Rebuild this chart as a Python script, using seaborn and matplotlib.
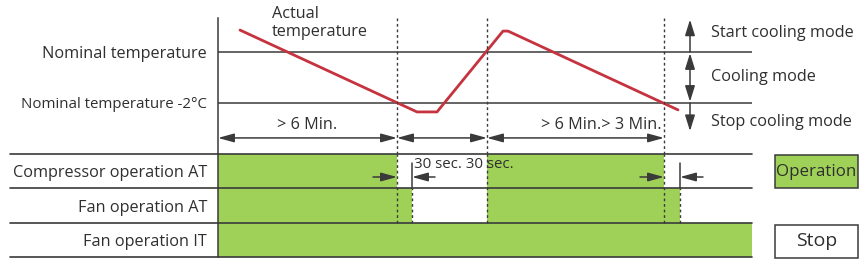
import matplotlib
matplotlib.use("Agg")
import matplotlib.pyplot as plt
from matplotlib.patches import Rectangle
import seaborn as sns

# ---- data -------------------------------------------------------------------
# time axis in diagram units (0 = start, 534 = end of the sketch)
t_end = 534

# actual temperature, in °C relative to the nominal temperature
temp_t = [22, 199, 219, 285, 290, 460]
temp_val = [0.86, -2.35, -2.35, 0.82, 0.82, -2.27]

level_values = [0, -2]
level_labels = ["Nominal temperature", "Nominal temperature -2°C"]

# compressor switching (dotted guides) and fan after-run
comp_switch_t = [179, 269, 446]
fan_off_t = [194, 462]

row_labels = ["Compressor operation AT", "Fan operation AT", "Fan operation IT"]
comp_on = [(0, 179), (269, 446)]
fan_at_on = [(0, 194), (269, 462)]
fan_it_on = [(0, 534)]

dim_spans = [(0, 179), (179, 269), (269, 446)]
dim_labels = ["> 6 Min.", "", "> 6 Min.> 3 Min."]

mode_labels = ["Start cooling mode", "Cooling mode", "Stop cooling mode"]
legend_labels = ["Operation", "Stop"]

# ---- style ------------------------------------------------------------------
GREEN = "#9fd159"
RED = "#c5333f"
INK = "#3a3a3a"
TXT = "#2f2f2f"
FS = 11.7

sns.set_theme(style="white")
plt.rcParams["font.family"] = ["Open Sans", "DejaVu Sans"]
plt.rcParams["text.color"] = TXT

W, H = 868, 259
fig = plt.figure(figsize=(W / 100, H / 100), dpi=100)


def frac(x0, y0, x1, y1):
    return [x0 / W, 1 - y1 / H, (x1 - x0) / W, (y1 - y0) / H]


ax_t = fig.add_axes(frac(218, 18, 752, 154))
ax_b = fig.add_axes(frac(218, 154, 752, 257))

ax_t.set_xlim(0, t_end)
ax_t.set_ylim(-4.0, 1.333)
ax_b.set_xlim(0, t_end)
ax_b.set_ylim(0, 3)

for ax in (ax_t, ax_b):
    for s in ("top", "right", "bottom"):
        ax.spines[s].set_visible(False)
    ax.spines["left"].set_color(INK)
    ax.spines["left"].set_linewidth(1.1)
    ax.set_xticks([])
    ax.tick_params(axis="y", length=0, pad=8, labelsize=FS, labelcolor=TXT)
    ax.patch.set_alpha(0)

# ---- temperature panel ------------------------------------------------------
for v in level_values:
    ax_t.axhline(v, color=INK, lw=1.1)
ax_t.set_yticks(level_values, level_labels)
ax_t.get_yticklabels()[1].set_fontsize(10.8)

sns.lineplot(x=temp_t, y=temp_val, sort=False, color=RED, lw=2, ax=ax_t)

for t in comp_switch_t:
    ax_t.axvline(t, color=INK, lw=1, ls=(0, (2, 2)))

ax_t.text(54, 1.13, "Actual\ntemperature", fontsize=FS, va="center",
          ha="left", linespacing=1.15, clip_on=False)

dim_y = -3.37
head = dict(arrowstyle="<|-|>,head_length=0.8,head_width=0.22",
            color=INK, lw=1.1, shrinkA=0, shrinkB=0, mutation_scale=12)
for (a, b), lab in zip(dim_spans, dim_labels):
    ax_t.annotate("", xy=(a, dim_y), xytext=(b, dim_y), arrowprops=head)
ax_t.text((dim_spans[0][0] + dim_spans[0][1]) / 2, -2.86, dim_labels[0],
          ha="center", va="center", fontsize=FS)
ax_t.text(dim_spans[2][1] - 2, -2.86, dim_labels[2],
          ha="right", va="center", fontsize=FS)

# cooling mode arrows on the right
mode_t = 472
one = dict(arrowstyle="-|>,head_length=0.8,head_width=0.25",
           color=INK, lw=1.1, shrinkA=0, shrinkB=0, mutation_scale=12)
two = dict(one, arrowstyle="<|-|>,head_length=0.8,head_width=0.25")
ax_t.annotate("", xy=(mode_t, 1.27), xytext=(mode_t, 0),
              arrowprops=one, annotation_clip=False)
ax_t.annotate("", xy=(mode_t, -0.05), xytext=(mode_t, -1.95),
              arrowprops=two, annotation_clip=False)
ax_t.annotate("", xy=(mode_t, -3.1), xytext=(mode_t, -2),
              arrowprops=one, annotation_clip=False)
for y, lab in zip([0.75, -0.98, -2.75], mode_labels):
    ax_t.text(mode_t + 21, y, lab, fontsize=FS, va="center", ha="left",
              clip_on=False)

# ---- operation rows ---------------------------------------------------------
rows = [comp_on, fan_at_on, fan_it_on]
row_y = [2, 1, 0]
for spans, y in zip(rows, row_y):
    ax_b.broken_barh([(a, b - a) for a, b in spans], (y, 1),
                     facecolor=GREEN, edgecolor="none")

line_tr = ax_b.get_yaxis_transform()
for y in [0, 1, 2, 3]:
    ax_b.plot([-0.39, 1], [y, y], color=INK, lw=1.2, transform=line_tr,
              clip_on=False)

ax_b.set_yticks([2.5, 1.5, 0.5], row_labels)

for t in comp_switch_t:
    ax_b.axvline(t, ymin=1 / 3, ymax=1, color=INK, lw=1, ls=(0, (2, 2)))
for t in fan_off_t:
    ax_b.axvline(t, ymin=1 / 3, ymax=2 / 3, color=INK, lw=1, ls=(0, (2, 2)))
    ax_b.plot([t, t], [2, 2.75], color=INK, lw=1.1)

small = dict(arrowstyle="-|>,head_length=0.8,head_width=0.22",
             color=INK, lw=1.1, shrinkA=0, shrinkB=0, mutation_scale=12)
for off, fan in zip([comp_switch_t[0], comp_switch_t[2]], fan_off_t):
    ax_b.annotate("", xy=(off, 2.33), xytext=(off - 24, 2.33), arrowprops=small)
    ax_b.annotate("", xy=(fan, 2.33), xytext=(fan + 23, 2.33), arrowprops=small)
ax_b.text(fan_off_t[0] + 2, 2.68, "30 sec. 30 sec.", fontsize=10.8,
          ha="left", va="center")

# ---- legend boxes -----------------------------------------------------------
for (y0, y1), lab, fc, fs in zip([(155, 188), (225, 258)], legend_labels,
                                 [GREEN, "white"], [12.2, 14]):
    fig.add_artist(Rectangle((775 / W, 1 - y1 / H), 83 / W, (y1 - y0) / H,
                             transform=fig.transFigure, facecolor=fc,
                             edgecolor=INK, lw=1.1))
    fig.text(816.5 / W, 1 - (y0 + y1) / 2 / H, lab, fontsize=fs,
             ha="center", va="center")

fig.savefig("out.png", dpi=100)
